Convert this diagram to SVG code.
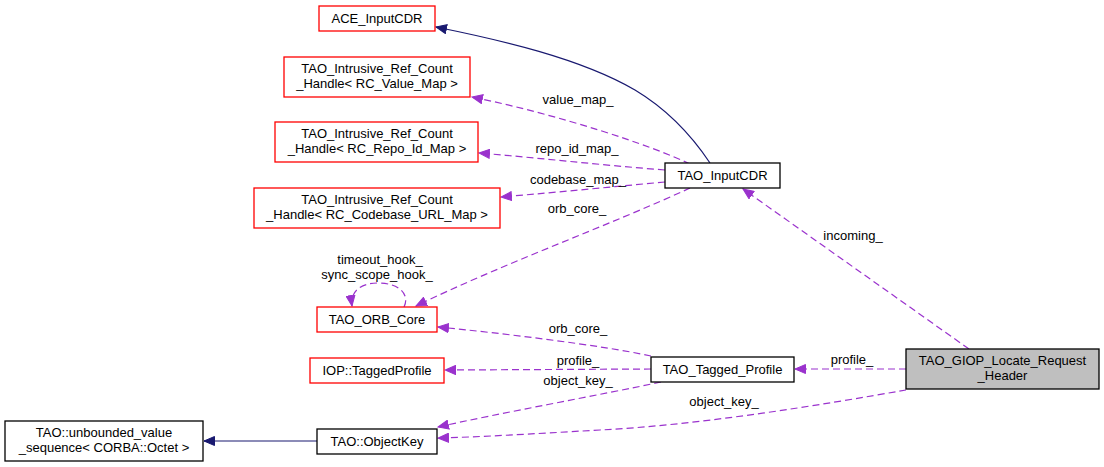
<svg xmlns="http://www.w3.org/2000/svg" width="1104" height="467" viewBox="0 0 1104 467">
<style>
text{font-family:"Liberation Sans",Arial,sans-serif;font-size:13px;fill:#000;text-anchor:middle}
.nb{fill:#fff;stroke:#000;stroke-width:1.3}
.nr{fill:#fff;stroke:#ff0000;stroke-width:1.3}
.ng{fill:#bfbfbf;stroke:#000;stroke-width:1.3}
.inh{fill:none;stroke:#191970;stroke-width:1.2;marker-end:url(#ah)}
.use{fill:none;stroke:#9a32cd;stroke-width:1.2;stroke-dasharray:7,4;marker-end:url(#au)}
</style>
<defs>
<marker id="ah" markerUnits="userSpaceOnUse" markerWidth="12" markerHeight="10" refX="11" refY="5" orient="auto"><path d="M0.5,0.5 L11,5 L0.5,9.5 z" fill="#191970" stroke="#191970"/></marker>
<marker id="au" markerUnits="userSpaceOnUse" markerWidth="12" markerHeight="10" refX="11" refY="5" orient="auto"><path d="M0.5,0.5 L11,5 L0.5,9.5 z" fill="#9a32cd" stroke="#9a32cd"/></marker>
</defs>
<rect width="1104" height="467" fill="#fff"/>
<g id="connectors">
<path class="inh" d="M710,163 C690,133 665,108 635,90 C580,58 500,40 436,27"/>
<path class="use" d="M690,164 C650,145 560,115 472,97"/>
<path class="use" d="M665,170 C600,165 540,158 479,153"/>
<path class="use" d="M665,182 C610,187 560,192 501,197"/>
<path class="use" d="M690,188 C610,225 500,265 416,306"/>
<path class="use" d="M969,349 L743,189"/>
<path class="use" d="M906,369 L795,369"/>
<path class="use" d="M906,390 C820,405 700,425 600,430 C530,434 480,437 438,438"/>
<path class="use" d="M651,356 C600,345 500,333 438,327"/>
<path class="use" d="M651,369 L445,370"/>
<path class="use" d="M661,382 C600,395 500,413 438,427"/>
<path class="use" d="M404,307 C410,295 400,283 378,283 C360,283 350,292 352,306"/>
<path class="inh" d="M317,441 L204,441"/>
<text x="578" y="104">value_map_</text>
<text x="577" y="153">repo_id_map_</text>
<text x="578" y="184">codebase_map_</text>
<text x="577" y="213">orb_core_</text>
<text x="853" y="240">incoming_</text>
<text x="380" y="264">timeout_hook_</text>
<text x="377" y="279">sync_scope_hook_</text>
<text x="578" y="333">orb_core_</text>
<text x="578" y="365">profile_</text>
<text x="578" y="385">object_key_</text>
<text x="852" y="364">profile_</text>
<text x="724" y="406">object_key_</text>
</g>
<g id="ACE_InputCDR"><rect class="nr" x="319" y="6" width="116" height="25"/><text x="377" y="23">ACE_InputCDR</text></g>
<g id="RC_Value_Map"><rect class="nr" x="284" y="57" width="186" height="40"/><text x="377" y="73">TAO_Intrusive_Ref_Count</text><text x="377" y="88">_Handle&lt; RC_Value_Map &gt;</text></g>
<g id="RC_Repo_Id_Map"><rect class="nr" x="275" y="122" width="203" height="40"/><text x="377" y="138">TAO_Intrusive_Ref_Count</text><text x="377" y="153">_Handle&lt; RC_Repo_Id_Map &gt;</text></g>
<g id="RC_Codebase_URL_Map"><rect class="nr" x="254" y="188" width="246" height="40"/><text x="377" y="204">TAO_Intrusive_Ref_Count</text><text x="377" y="219">_Handle&lt; RC_Codebase_URL_Map &gt;</text></g>
<g id="TAO_ORB_Core"><rect class="nr" x="317" y="307" width="120" height="25"/><text x="377" y="324">TAO_ORB_Core</text></g>
<g id="IOP_TaggedProfile"><rect class="nr" x="310" y="358" width="134" height="25"/><text x="377" y="375">IOP::TaggedProfile</text></g>
<g id="unbounded_value_sequence"><rect class="nb" x="5" y="421" width="198" height="40"/><text x="104" y="437">TAO::unbounded_value</text><text x="104" y="452">_sequence&lt; CORBA::Octet &gt;</text></g>
<g id="TAO_ObjectKey"><rect class="nb" x="317" y="429" width="120" height="25"/><text x="377" y="446">TAO::ObjectKey</text></g>
<g id="TAO_InputCDR"><rect class="nb" x="665" y="163" width="115" height="25"/><text x="722.5" y="180">TAO_InputCDR</text></g>
<g id="TAO_Tagged_Profile"><rect class="nb" x="651" y="357" width="143" height="25"/><text x="722.5" y="374">TAO_Tagged_Profile</text></g>
<g id="TAO_GIOP_Locate_Request_Header"><rect class="ng" x="906" y="349" width="193" height="40"/><text x="1002.5" y="365">TAO_GIOP_Locate_Request</text><text x="1002.5" y="380">_Header</text></g>
</svg>
